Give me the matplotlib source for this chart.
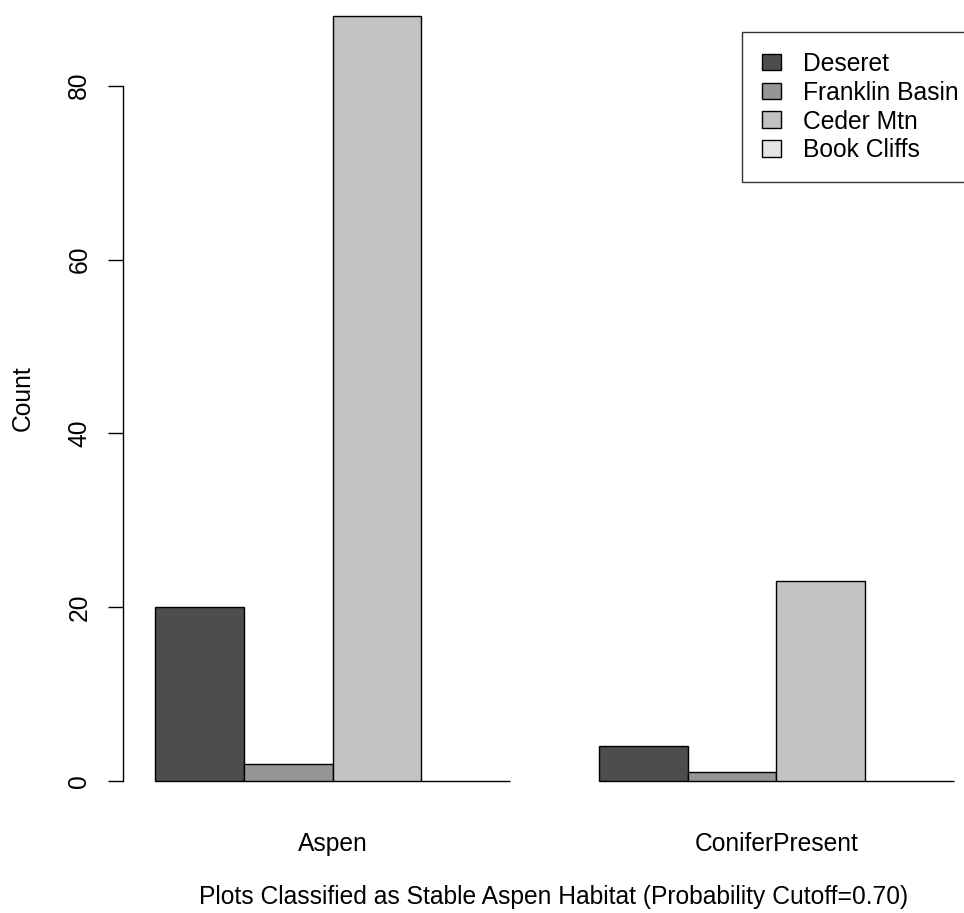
import numpy as np
import matplotlib
matplotlib.use("Agg")
import matplotlib.pyplot as plt

plt.rcParams["font.family"] = ["Liberation Sans", "DejaVu Sans"]

# counts per classification group, one list per study area
groups = ["Aspen", "ConiferPresent"]
areas = ["Deseret", "Franklin Basin", "Ceder Mtn", "Book Cliffs"]
deseret = [20, 4]
franklin = [2, 1]
ceder = [88, 23]
book = [0, 0]
counts = [deseret, franklin, ceder, book]
colors = ["#4d4d4d", "#969696", "#c3c3c3", "#e6e6e6"]

FS = 17.7
W, H = 964, 913
fig = plt.figure(figsize=(W / 100, H / 100), dpi=100)
# plot region in pixels (R-style barplot, right part cropped off)
left, right, bot, top = 123, 986, 811.6, -14.4
ax = fig.add_axes([left / W, (H - bot) / H, (right - left) / W, (bot - top) / H])

nb = len(areas)
for i, (name, vals, col) in enumerate(zip(areas, counts, colors)):
    xs = [1 + g * (nb + 1) + i for g in range(len(groups))]
    ax.bar(xs, vals, width=1, align="edge", color=col, edgecolor="black",
           linewidth=1, label=name)

ax.set_xlim(0.64, 10.36)
ax.set_ylim(-3.52, 91.52)
for s in ["top", "right", "bottom"]:
    ax.spines[s].set_visible(False)
ax.spines["left"].set_bounds(0, 80)
ax.spines["left"].set_linewidth(1)

ax.set_yticks(np.arange(0, 81, 20))
ax.tick_params(axis="y", length=10.8, width=1, pad=12, labelsize=FS, labelrotation=90)
for t in ax.get_yticklabels():
    t.set_va("center")

centers = [1 + g * (nb + 1) + nb / 2 for g in range(len(groups))]
ax.set_xticks(centers)
ax.set_xticklabels(groups)
ax.tick_params(axis="x", length=0, pad=15, labelsize=FS)

ax.set_ylabel("Count", fontsize=FS, va="center")
ax.yaxis.set_label_coords((23 - left) / (right - left), 0.5)
ax.set_xlabel("Plots Classified as Stable Aspen Habitat (Probability Cutoff=0.70)",
              fontsize=FS, va="center")
ax.xaxis.set_label_coords((554 - left) / (right - left), (bot - 897) / (bot - top))

leg = fig.legend(loc="upper left", bbox_to_anchor=(742 / W, 1 - 32 / H),
                 fontsize=FS, frameon=True, fancybox=False, borderpad=0.8,
                 handlelength=0.8, handleheight=0.68, handletextpad=0.9,
                 labelspacing=0.2, borderaxespad=0)
leg.get_frame().set_edgecolor("black")
leg.get_frame().set_linewidth(1)

fig.savefig("out.png", dpi=100)
